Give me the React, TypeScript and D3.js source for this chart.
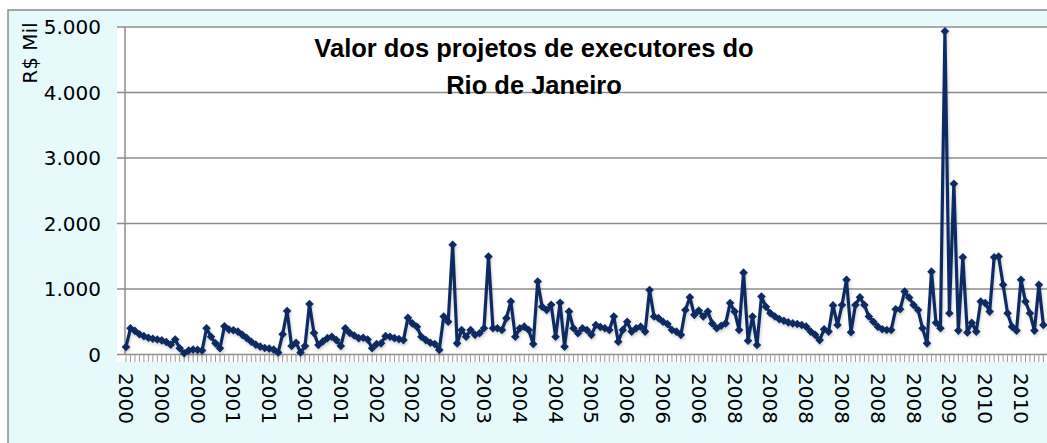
import React from "react";
import * as d3 from "d3";

// labels shown every 8th category on the x axis
const tickLabels = [
  "2000", "2000", "2000", "2001", "2001", "2001", "2001", "2002", "2002",
  "2002", "2003", "2004", "2004", "2005", "2006", "2006", "2006", "2008",
  "2008", "2008", "2008", "2008", "2008", "2009", "2010", "2010",
];
const labelEvery = 8;

// R$ mil, one value per project category
const values = [
  115, 400, 360, 310, 280, 255, 240, 230, 215, 190,
  150, 230, 95, 20, 60, 75, 70, 60, 400, 270,
  170, 95, 430, 380, 370, 350, 300, 250, 195, 150,
  120, 100, 90, 75, 30, 310, 665, 130, 180, 30,
  130, 770, 330, 145, 200, 250, 270, 220, 130, 400,
  330, 290, 250, 255, 230, 95, 160, 170, 280, 270,
  250, 235, 220, 560, 475, 425, 270, 220, 180, 160,
  70, 580, 500, 1675, 170, 375, 270, 375, 300, 325,
  400, 1495, 400, 400, 375, 555, 810, 270, 400, 425,
  375, 160, 1115, 730, 680, 760, 270, 790, 120, 655,
  400, 325, 400, 375, 300, 450, 420, 400, 375, 580,
  195, 375, 500, 350, 400, 425, 350, 985, 580, 555,
  500, 465, 375, 350, 300, 680, 875, 605, 670, 580,
  655, 475, 400, 440, 475, 785, 655, 375, 1250, 210,
  580, 145, 885, 730, 630, 580, 540, 515, 490, 475,
  465, 450, 425, 350, 300, 220, 385, 350, 750, 450,
  755, 1140, 340, 755, 875, 755, 580, 500, 425, 385,
  375, 375, 690, 690, 960, 870, 755, 680, 400, 170,
  1265, 485, 400, 4935, 630, 2605, 365, 1485, 335, 485,
  350, 810, 785, 655, 1485, 1495, 1065, 630, 425, 365,
  1140, 810, 630, 365, 1065, 450,
];

const yTicks = [0, 1000, 2000, 3000, 4000, 5000];

const W = 1047;
const H = 443;
const plotLeft = 125;
const plotTop = 27;
const plotBottom = 354.5;
const step = 4.475; // px between categories

const lineColor = "#0f2c62";
const gridColor = "#8c8c8c";

export default function App() {
  const x = d3
    .scaleLinear()
    .domain([0, values.length - 1])
    .range([126, 126 + (values.length - 1) * step]);
  const y = d3.scaleLinear().domain([0, 5000]).range([plotBottom, plotTop]);

  const fmt = (v: number) => d3.format(",")(v).replace(/,/g, ".");

  const line = d3
    .line<number>()
    .x((_, i) => x(i))
    .y((d) => y(d));

  const diamond = "M0,-4.3L4.3,0L0,4.3L-4.3,0Z";

  return (
    <svg
      width={W}
      height={H}
      style={{ position: "absolute", left: 0, top: 0, background: "#fff" }}
      fontFamily="DejaVu Sans"
    >
      <defs>
        <filter id="shadow" x="-5%" y="-5%" width="110%" height="120%">
          <feDropShadow dx="1" dy="2" stdDeviation="1.5" floodColor="#000" floodOpacity="0.18" />
        </filter>
      </defs>

      {/* chart area */}
      <rect x={8} y={10} width={W} height={H} fill="#e6fafc" stroke={gridColor} strokeWidth={1.5} />

      {/* plot area */}
      <rect x={117} y={plotTop} width={W - 117} height={362 - plotTop} fill="#ffffff" />

      {/* gridlines + y ticks */}
      {yTicks.map((t) => (
        <g key={t}>
          <line x1={117} x2={W} y1={y(t)} y2={y(t)} stroke={gridColor} strokeWidth={1.5} />
          <text x={101} y={y(t)} textAnchor="end" dominantBaseline="central" fontSize={20} fill="#000">
            {fmt(t)}
          </text>
        </g>
      ))}

      {/* y axis */}
      <line x1={plotLeft} x2={plotLeft} y1={plotTop} y2={plotBottom} stroke={gridColor} strokeWidth={1.5} />

      {/* x axis ticks */}
      {values.map((_, i) => (
        <line key={i} x1={x(i)} x2={x(i)} y1={plotBottom} y2={362} stroke="#9a9a9a" strokeWidth={1} />
      ))}

      {/* x labels */}
      {tickLabels.map((lab, k) => {
        const xi = x(k * labelEvery);
        return (
          <text
            key={k}
            transform={`translate(${xi},373) rotate(90)`}
            dominantBaseline="central"
            fontSize={20}
            fill="#000"
          >
            {lab}
          </text>
        );
      })}

      {/* series */}
      <g filter="url(#shadow)">
        <path d={line(values) || ""} fill="none" stroke={lineColor} strokeWidth={3.2} strokeLinejoin="round" />
        {values.map((v, i) => (
          <path key={i} d={diamond} transform={`translate(${x(i)},${y(v)})`} fill={lineColor} />
        ))}
      </g>

      {/* y axis title */}
      <text transform="translate(30,53) rotate(-90)" textAnchor="middle" dominantBaseline="central" fontSize={20}>
        R$ Mil
      </text>

      {/* title */}
      <g fontFamily="Liberation Sans" fontWeight="bold" fontSize={25.5} textAnchor="middle" fill="#000">
        <text x={534} y={57}>Valor dos projetos de executores do</text>
        <text x={534} y={94}>Rio de Janeiro</text>
      </g>
    </svg>
  );
}
